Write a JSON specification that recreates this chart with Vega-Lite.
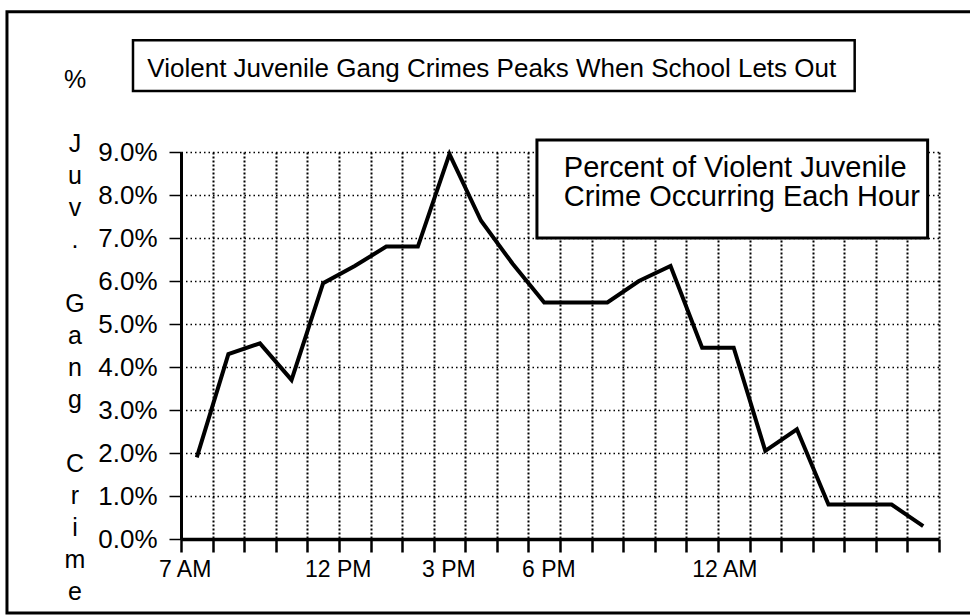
{
  "$schema": "https://vega.github.io/schema/vega-lite/v6.json",
  "autosize": {"type": "none"},
  "width": 758,
  "height": 387,
  "padding": {"left": 181, "top": 152, "right": 31, "bottom": 76},
  "background": "white",
  "config": {"view": {"stroke": null}, "font": "Liberation Sans"},
  "datasets": {
    "crime": [
      {"h": 0, "hour": "7 AM", "pct": 1.9},
      {"h": 1, "hour": "8 AM", "pct": 4.3},
      {"h": 2, "hour": "9 AM", "pct": 4.55},
      {"h": 3, "hour": "10 AM", "pct": 3.7},
      {"h": 4, "hour": "11 AM", "pct": 5.95},
      {"h": 5, "hour": "12 PM", "pct": 6.35},
      {"h": 6, "hour": "1 PM", "pct": 6.8},
      {"h": 7, "hour": "2 PM", "pct": 6.8},
      {"h": 8, "hour": "3 PM", "pct": 8.95},
      {"h": 9, "hour": "4 PM", "pct": 7.4},
      {"h": 10, "hour": "5 PM", "pct": 6.4},
      {"h": 11, "hour": "6 PM", "pct": 5.5},
      {"h": 12, "hour": "7 PM", "pct": 5.5},
      {"h": 13, "hour": "8 PM", "pct": 5.5},
      {"h": 14, "hour": "9 PM", "pct": 6.0},
      {"h": 15, "hour": "10 PM", "pct": 6.35},
      {"h": 16, "hour": "11 PM", "pct": 4.45},
      {"h": 17, "hour": "12 AM", "pct": 4.45},
      {"h": 18, "hour": "1 AM", "pct": 2.05},
      {"h": 19, "hour": "2 AM", "pct": 2.55},
      {"h": 20, "hour": "3 AM", "pct": 0.8},
      {"h": 21, "hour": "4 AM", "pct": 0.8},
      {"h": 22, "hour": "5 AM", "pct": 0.8},
      {"h": 23, "hour": "6 AM", "pct": 0.3}
    ],
    "ticklabels": [
      {"label": "7 AM", "at": -0.37},
      {"label": "12 PM", "at": 4.48},
      {"label": "3 PM", "at": 7.98},
      {"label": "6 PM", "at": 11.15},
      {"label": "12 AM", "at": 16.72}
    ],
    "ytitle": [
      {"ty": 10.49, "text": ["%"]},
      {"ty": 9.0, "text": ["J", "u", "v", "."]},
      {"ty": 5.28, "text": ["G", "a", "n", "g"]},
      {"ty": 1.56, "text": ["C", "r", "i", "m", "e"]}
    ],
    "frame": [{"x1": -6.01, "x2": 24.63, "y1": 12.26, "y2": -1.72}],
    "titlebox": [{"x1": -2.02, "x2": 20.83, "y1": 11.6, "y2": 10.42, "tx": 9.34, "ty": 10.74, "text": "Violent Juvenile Gang Crimes Peaks When School Lets Out"}],
    "notebox": [{"x1": 10.77, "x2": 23.14, "y1": 9.28, "y2": 7.0}],
    "notetext": [
      {"tx": 11.62, "ty": 8.42, "text": "Percent of Violent Juvenile"},
      {"tx": 11.62, "ty": 7.74, "text": "Crime Occurring Each Hour"}
    ]
  },
  "layer": [
    {
      "data": {"name": "crime"},
      "mark": {"type": "line", "color": "black", "strokeWidth": 4, "strokeJoin": "miter"},
      "encoding": {
        "x": {
          "field": "h", "type": "quantitative",
          "scale": {"domain": [-0.5, 23.5], "nice": false, "zero": false},
          "axis": {
            "values": [-0.5, 0.5, 1.5, 2.5, 3.5, 4.5, 5.5, 6.5, 7.5, 8.5, 9.5, 10.5, 11.5, 12.5, 13.5, 14.5, 15.5, 16.5, 17.5, 18.5, 19.5, 20.5, 21.5, 22.5, 23.5],
            "tickCount": 30,
            "labels": false, "title": null,
            "grid": true, "gridColor": "black", "gridDash": [2, 2], "gridWidth": 2, "gridOpacity": 1,
            "ticks": true, "tickSize": 13, "tickWidth": 2.5, "tickColor": "black",
            "domain": true, "domainColor": "black", "domainWidth": 3.5
          }
        },
        "y": {
          "field": "pct", "type": "quantitative",
          "scale": {"domain": [0, 9], "nice": false},
          "axis": {
            "values": [0, 1, 2, 3, 4, 5, 6, 7, 8, 9],
            "tickCount": 12,
            "labelExpr": "format(datum.value, '.1f') + '%'",
            "labelFont": "Liberation Sans", "labelFontSize": 26, "labelColor": "black", "labelPadding": 12,
            "grid": true, "gridColor": "black", "gridDash": [1.5, 3], "gridWidth": 1.5, "gridOpacity": 1,
            "ticks": true, "tickSize": 12, "tickWidth": 1.5, "tickColor": "black",
            "domain": true, "domainColor": "black", "domainWidth": 3,
            "title": null
          }
        }
      }
    },
    {
      "data": {"name": "frame"},
      "mark": {"type": "rect", "fill": null, "stroke": "black", "strokeWidth": 3},
      "encoding": {
        "x": {"field": "x1", "type": "quantitative", "scale": {"domain": [-0.5, 23.5], "nice": false, "zero": false}},
        "x2": {"field": "x2"},
        "y": {"field": "y1", "type": "quantitative", "scale": {"domain": [0, 9], "nice": false}},
        "y2": {"field": "y2"}
      }
    },
    {
      "data": {"name": "ytitle"},
      "mark": {"type": "text", "fontSize": 25, "font": "Liberation Sans", "align": "center", "baseline": "alphabetic", "lineHeight": 32, "dx": -106, "color": "black"},
      "encoding": {
        "x": {"datum": -0.5, "type": "quantitative", "scale": {"domain": [-0.5, 23.5], "nice": false, "zero": false}},
        "y": {"field": "ty", "type": "quantitative", "scale": {"domain": [0, 9], "nice": false}},
        "text": {"field": "text"}
      }
    },
    {
      "data": {"name": "titlebox"},
      "mark": {"type": "rect", "fill": "white", "stroke": "black", "strokeWidth": 2.5},
      "encoding": {
        "x": {"field": "x1", "type": "quantitative", "scale": {"domain": [-0.5, 23.5], "nice": false, "zero": false}},
        "x2": {"field": "x2"},
        "y": {"field": "y1", "type": "quantitative", "scale": {"domain": [0, 9], "nice": false}},
        "y2": {"field": "y2"}
      }
    },
    {
      "data": {"name": "titlebox"},
      "mark": {"type": "text", "fontSize": 26, "font": "Liberation Sans", "align": "center", "baseline": "alphabetic", "color": "black"},
      "encoding": {
        "x": {"field": "tx", "type": "quantitative", "scale": {"domain": [-0.5, 23.5], "nice": false, "zero": false}},
        "y": {"field": "ty", "type": "quantitative", "scale": {"domain": [0, 9], "nice": false}},
        "text": {"field": "text"}
      }
    },
    {
      "data": {"name": "notebox"},
      "mark": {"type": "rect", "fill": "white", "stroke": "black", "strokeWidth": 3},
      "encoding": {
        "x": {"field": "x1", "type": "quantitative", "scale": {"domain": [-0.5, 23.5], "nice": false, "zero": false}},
        "x2": {"field": "x2"},
        "y": {"field": "y1", "type": "quantitative", "scale": {"domain": [0, 9], "nice": false}},
        "y2": {"field": "y2"}
      }
    },
    {
      "data": {"name": "notetext"},
      "mark": {"type": "text", "fontSize": 29, "font": "Liberation Sans", "align": "left", "baseline": "alphabetic", "color": "black"},
      "encoding": {
        "x": {"field": "tx", "type": "quantitative", "scale": {"domain": [-0.5, 23.5], "nice": false, "zero": false}},
        "y": {"field": "ty", "type": "quantitative", "scale": {"domain": [0, 9], "nice": false}},
        "text": {"field": "text"}
      }
    },
    {
      "data": {"name": "ticklabels"},
      "mark": {"type": "text", "fontSize": 23, "font": "Liberation Sans", "align": "center", "baseline": "alphabetic", "dy": 38, "color": "black"},
      "encoding": {
        "x": {"field": "at", "type": "quantitative", "scale": {"domain": [-0.5, 23.5], "nice": false, "zero": false}},
        "y": {"datum": 0, "type": "quantitative", "scale": {"domain": [0, 9], "nice": false}},
        "text": {"field": "label"}
      }
    }
  ]
}
